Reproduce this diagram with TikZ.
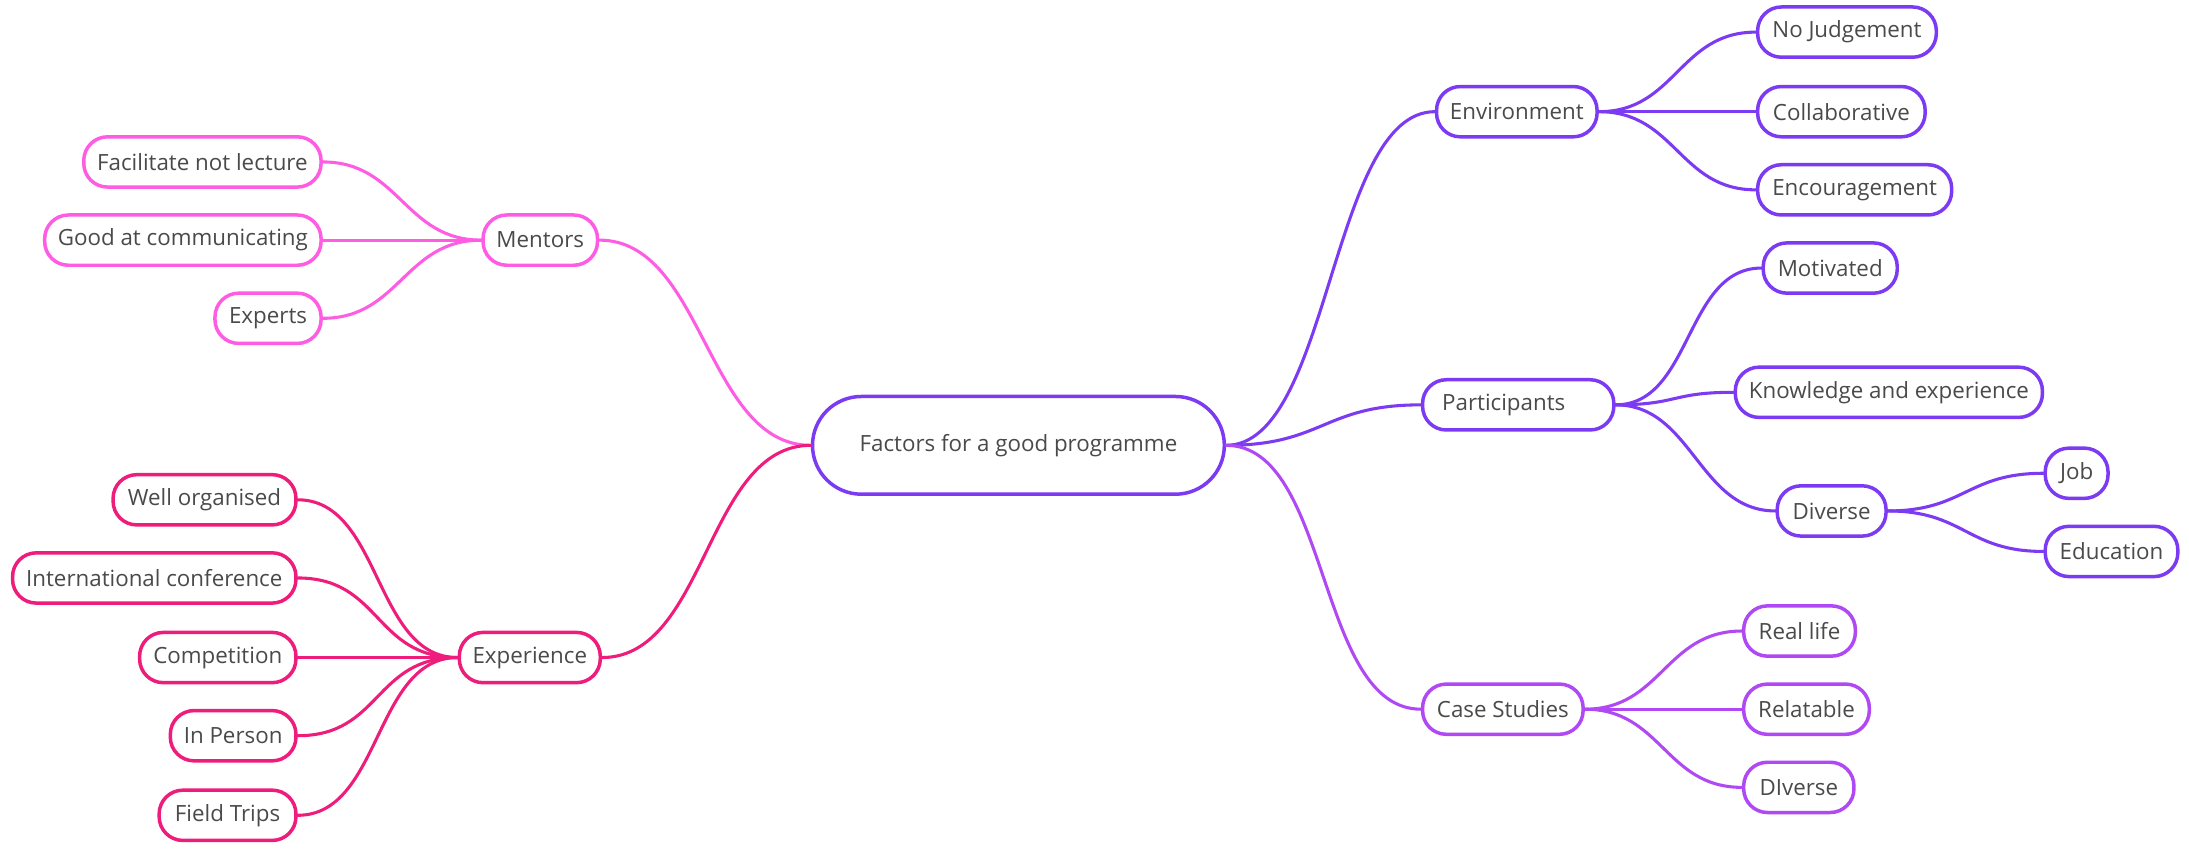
\documentclass[tikz,border=0pt]{standalone}
\usepackage{fontspec}
\setmainfont{Open Sans}
\definecolor{mentc}{HTML}{FF5CE4}
\definecolor{expc}{HTML}{EE1C7B}
\definecolor{violc}{HTML}{7C3AF2}
\definecolor{casec}{HTML}{B048F4}
\definecolor{txt}{HTML}{4A4A4A}
\begin{document}
\begin{tikzpicture}[x=0.5pt,y=-0.5pt,
  box/.style={draw, line width=1.25pt, rounded corners=8.5pt, minimum height=18pt,
    inner sep=0pt, fill=white, text=txt, font=\fontsize{8}{10}\selectfont},
  wd/.style={minimum width=#1*0.5pt},
  link/.style={line width=1.1pt, line cap=round}]
\useasboundingbox (0,0) rectangle (1568,610);

% root
\node[box, draw=violc, wd=295, minimum height=35pt, rounded corners=17.5pt] (root) at (729.5,319) {Factors for a good programme};

% Mentors branch
\node[box, draw=mentc, wd=82] (ment) at (387,172) {Mentors};
\node[box, draw=mentc, wd=170] (fac) at (145,116) {Facilitate not lecture};
\node[box, draw=mentc, wd=198] (good) at (131,172) {Good at communicating};
\node[box, draw=mentc, wd=76] (expt) at (192,228) {Experts};

% Experience branch
\node[box, draw=expc, wd=101] (expe) at (379.5,471) {Experience};
\node[box, draw=expc, wd=131] (well) at (146.5,358) {Well organised};
\node[box, draw=expc, wd=203] (intl) at (110.5,414) {International conference};
\node[box, draw=expc, wd=112] (comp) at (156,471) {Competition};
\node[box, draw=expc, wd=90] (inp) at (167,527) {In Person};
\node[box, draw=expc, wd=98] (field) at (163,584) {Field Trips};

% Environment branch
\node[box, draw=violc, wd=115] (env) at (1086.5,80) {Environment};
\node[box, draw=violc, wd=128] (nojud) at (1323,23) {No Judgement};
\node[box, draw=violc, wd=120] (coll) at (1319,80) {Collaborative};
\node[box, draw=violc, wd=139] (enc) at (1328.5,136) {Encouragement};

% Participants branch
\node[box, draw=violc, inner xsep=7pt, text width=54.5pt, align=left] (part) at (1087.5,290) {Participants};
\node[box, draw=violc, wd=96] (mot) at (1311,192) {Motivated};
\node[box, draw=violc, wd=220] (know) at (1353,281) {Knowledge and experience};
\node[box, draw=violc, wd=78] (div) at (1312,366) {Diverse};
\node[box, draw=violc, wd=45] (job) at (1487.5,339) {Job};
\node[box, draw=violc, wd=95] (edu) at (1512.5,395) {Education};

% Case studies branch
\node[box, draw=casec, wd=115] (case) at (1076.5,508) {Case Studies};
\node[box, draw=casec, wd=80] (real) at (1289,452) {Real life};
\node[box, draw=casec, wd=90] (rel) at (1294,508) {Relatable};
\node[box, draw=casec, wd=79] (div2) at (1288.5,564) {DIverse};

% connectors: root
\draw[link, mentc] (root.west) .. controls +(-75,0) and +(75,0) .. (ment.east);
\draw[link, expc] (root.west) .. controls +(-75,0) and +(75,0) .. (expe.east);
\draw[link, violc] (root.east) .. controls +(75,0) and +(-75,0) .. (env.west);
\draw[link, violc] (root.east) .. controls +(70,0) and +(-70,0) .. (part.west);
\draw[link, casec] (root.east) .. controls +(75,0) and +(-75,0) .. (case.west);

% Mentors children
\draw[link, mentc] (ment.west) .. controls +(-55,0) and +(55,0) .. (fac.east);
\draw[link, mentc] (ment.west) -- (good.east);
\draw[link, mentc] (ment.west) .. controls +(-55,0) and +(55,0) .. (expt.east);

% Experience children
\draw[link, expc] (expe.west) .. controls +(-60,0) and +(60,0) .. (well.east);
\draw[link, expc] (expe.west) .. controls +(-60,0) and +(60,0) .. (intl.east);
\draw[link, expc] (expe.west) -- (comp.east);
\draw[link, expc] (expe.west) .. controls +(-60,0) and +(60,0) .. (inp.east);
\draw[link, expc] (expe.west) .. controls +(-60,0) and +(60,0) .. (field.east);

% Environment children
\draw[link, violc] (env.east) .. controls +(55,0) and +(-55,0) .. (nojud.west);
\draw[link, violc] (env.east) -- (coll.west);
\draw[link, violc] (env.east) .. controls +(55,0) and +(-55,0) .. (enc.west);

% Participants children
\draw[link, violc] (part.east) .. controls +(55,0) and +(-55,0) .. (mot.west);
\draw[link, violc] (part.east) .. controls +(45,0) and +(-45,0) .. (know.west);
\draw[link, violc] (part.east) .. controls +(55,0) and +(-55,0) .. (div.west);
\draw[link, violc] (div.east) .. controls +(55,0) and +(-55,0) .. (job.west);
\draw[link, violc] (div.east) .. controls +(55,0) and +(-55,0) .. (edu.west);

% Case studies children
\draw[link, casec] (case.east) .. controls +(55,0) and +(-55,0) .. (real.west);
\draw[link, casec] (case.east) -- (rel.west);
\draw[link, casec] (case.east) .. controls +(55,0) and +(-55,0) .. (div2.west);
\end{tikzpicture}
\end{document}
